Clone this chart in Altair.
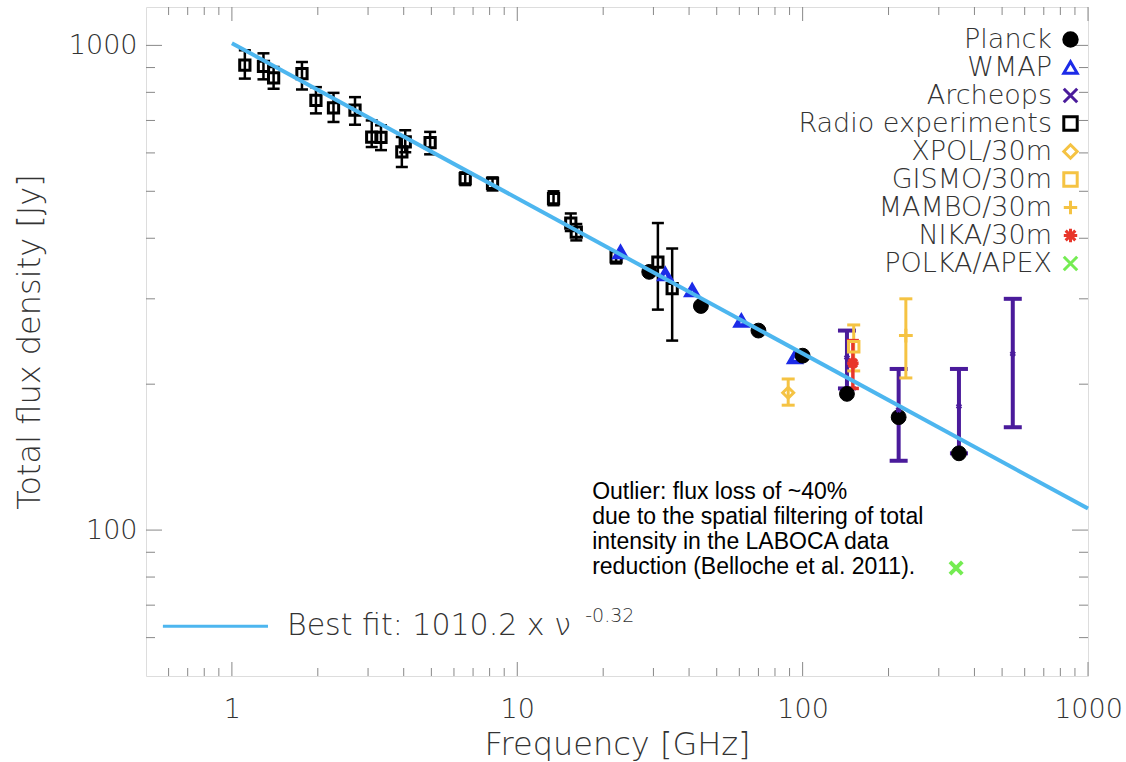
import altair as alt
import pandas as pd

FONT = "DejaVu Sans"
TXT = "#333333"
WT = 200

# ---------------- data ----------------
series = ["Planck", "WMAP", "Archeops", "Radio experiments", "XPOL/30m",
          "GISMO/30m", "MAMBO/30m", "NIKA/30m", "POLKA/APEX"]

planck_freq = [29, 44, 70, 100, 143, 217, 353]
planck_flux = [341, 290, 258, 229, 191, 171, 144]

wmap_freq = [23, 33, 41, 61, 94]
wmap_flux = [374, 337, 312, 270, 227]

archeops_freq = [143, 217, 353, 545]
archeops_flux = [227, 177, 180, 231]
archeops_lo = [196, 139, 144, 163]
archeops_hi = [258, 215, 215, 300]

radio_freq = [1.11, 1.29, 1.40, 1.76, 1.97, 2.27, 2.70, 3.09, 3.33, 3.94,
              4.05, 4.95, 6.57, 8.19, 13.4, 15.4, 16.1, 22.2, 31.1, 34.9]
radio_flux = [910, 905, 857, 874, 770, 743, 735, 647, 646, 603,
              632, 630, 531, 519, 483, 430, 412, 366, 357, 315]
radio_lo = [854, 851, 814, 811, 724, 695, 686, 617, 608, 561,
            602, 596, 515, 502, 468, 414, 396, 355, 285, 246]
radio_hi = [977, 963, 902, 924, 820, 798, 782, 700, 684, 647,
            668, 663, 547, 534, 500, 450, 428, 376, 430, 381]

xpol_freq, xpol_flux, xpol_lo, xpol_hi = [89], [192], [181], [205]
gismo_freq, gismo_flux, gismo_lo, gismo_hi = [151], [239], [213], [265]
mambo_freq, mambo_flux, mambo_lo, mambo_hi = [230], [252], [206], [300]
nika_freq, nika_flux, nika_lo, nika_hi = [150], [221], [196], [246]
polka_freq, polka_flux = [345], [83.5]

fit_amp = 1010.2
fit_index = -0.32
fit_nu = [1, 1000]

x_major = [1, 10, 100, 1000]
x_minor = [0.6, 0.7, 0.8, 0.9, 2, 3, 4, 5, 6, 7, 8, 9, 20, 30, 40, 50, 60, 70,
           80, 90, 200, 300, 400, 500, 600, 700, 800, 900]
y_major = [100, 1000]
y_minor = [60, 70, 80, 90, 200, 300, 400, 500, 600, 700, 800, 900]

note_text = ["Outlier: flux loss of ~40%",
             "due to the spatial filtering of total",
             "intensity in the LABOCA data",
             "reduction (Belloche et al. 2011)."]
note_pos = [18.3, 126.5]
fit_label = "Best fit: 1010.2 x \u03bd"
fit_exp = "-0.32"
fit_key_x = [0.573, 1.338]
fit_key_y = 63.3
fit_label_pos = [1.56, 63.4]
fit_exp_pos = [17.3, 66.5]

# ---------------- styles ----------------
W, H = 942, 669
X_SHAPE = "M-1,-1L1,1M-1,1L1,-1"
PLUS = "M-1,0L1,0M0,-1L0,1"
AST = "M-1,0L1,0M0,-1L0,1M-0.72,-0.72L0.72,0.72M-0.72,0.72L0.72,-0.72"
YEL = "#f5c343"
colors = ["#000000", "#1c2be8", "#4a1b9b", "#000000", YEL, YEL, YEL,
          "#e8362a", "#74ec52"]
fills = ["#000000"] + ["transparent"] * 8
shapes = ["circle", "triangle-up", X_SHAPE, "square", "diamond", "square",
          PLUS, AST, X_SHAPE]

xscale = alt.Scale(type="log", domain=[0.5, 1000], nice=False)
yscale = alt.Scale(type="log", domain=[50, 1200], nice=False)
xaxis = alt.Axis(values=x_major, format="d", ticks=False, tickSize=0,
                 domain=False, grid=False, labelFont=FONT, labelFontSize=27,
                 labelFontWeight=WT, labelFlush=False,
                 labelColor=TXT, labelPadding=20, titleFont=FONT,
                 titleFontSize=32, titleFontWeight=WT, titleColor=TXT,
                 titlePadding=7)
yaxis = alt.Axis(values=y_major, format="d", ticks=False, tickSize=0,
                 domain=False, grid=False, labelFont=FONT, labelFontSize=27,
                 labelFontWeight=WT,
                 labelColor=TXT, labelPadding=9, titleFont=FONT,
                 titleFontSize=32, titleFontWeight=WT, titleColor=TXT,
                 titlePadding=22)


def X(f):
    return alt.X(f"{f}:Q", scale=xscale, axis=xaxis, title="Frequency [GHz]")


def Y(f):
    return alt.Y(f"{f}:Q", scale=yscale, axis=yaxis,
                 title="Total flux density [Jy]")


# ---------------- frame ticks ----------------
TICK = "#888888"
layers = []
for vals, ln in [(x_major, 14), (x_minor, 8)]:
    d = pd.DataFrame({"v": vals})
    layers.append(alt.Chart(d).mark_rule(color=TICK, strokeWidth=1).encode(
        x=X("v"), y=alt.value(H), y2=alt.value(H - ln)))
    layers.append(alt.Chart(d).mark_rule(color=TICK, strokeWidth=1).encode(
        x=X("v"), y=alt.value(0), y2=alt.value(ln)))
for vals, ln in [(y_major, 16), (y_minor, 9)]:
    d = pd.DataFrame({"v": vals})
    layers.append(alt.Chart(d).mark_rule(color=TICK, strokeWidth=1).encode(
        y=Y("v"), x=alt.value(0), x2=alt.value(ln)))
    layers.append(alt.Chart(d).mark_rule(color=TICK, strokeWidth=1).encode(
        y=Y("v"), x=alt.value(W), x2=alt.value(W - ln)))

# ---------------- error bars ----------------
err_groups = [
    (radio_freq, radio_lo, radio_hi, "#000000", 2.5, 12),
    (archeops_freq, archeops_lo, archeops_hi, "#4a1b9b", 4, 18),
    (xpol_freq, xpol_lo, xpol_hi, YEL, 3, 13),
    (gismo_freq, gismo_lo, gismo_hi, YEL, 3, 13),
    (mambo_freq, mambo_lo, mambo_hi, YEL, 3, 13),
    (nika_freq, nika_lo, nika_hi, "#e8362a", 3.5, 12),
]
for fr, lo, hi, col, sw, cap in err_groups:
    d = pd.DataFrame({"freq": fr, "lo": lo, "hi": hi})
    layers.append(alt.Chart(d).mark_rule(color=col, strokeWidth=sw).encode(
        x=X("freq"), y=Y("lo"), y2="hi"))
    for end in ["lo", "hi"]:
        layers.append(alt.Chart(d).mark_tick(
            color=col, orient="horizontal", size=cap, thickness=sw,
            opacity=1).encode(x=X("freq"), y=Y(end)))

# ---------------- markers ----------------
rows = []
def add(name, fr, fl, sz, sw):
    for a, b in zip(fr, fl):
        rows.append({"series": name, "freq": a, "flux": b, "sz": sz, "sw": sw})

add("Radio experiments", radio_freq, radio_flux, 105, 3)
add("WMAP", wmap_freq, wmap_flux, 110, 4.5)
add("Planck", planck_freq, planck_flux, 220, 1)
add("Archeops", archeops_freq, archeops_flux, 18, 3)
add("XPOL/30m", xpol_freq, xpol_flux, 120, 3)
add("GISMO/30m", gismo_freq, gismo_flux, 110, 3)
add("MAMBO/30m", mambo_freq, mambo_flux, 190, 3)
add("NIKA/30m", nika_freq, nika_flux, 130, 3.5)
add("POLKA/APEX", polka_freq, polka_flux, 150, 4)
mk = pd.DataFrame(rows)

leg = alt.Legend(orient="none", legendX=911, legendY=19, direction="vertical",
                 labelAlign="right", labelOffset={"expr": "-32"},
                 labelFont=FONT, labelFontWeight=WT,
                 labelFontSize=27, labelColor=TXT, labelLimit=600,
                 symbolSize=180, symbolStrokeWidth=3, rowPadding=0,
                 padding=0)
markers = alt.Chart(mk).mark_point(opacity=1).encode(
    x=X("freq"), y=Y("flux"),
    stroke=alt.Stroke("series:N", title=None, legend=leg,
                      scale=alt.Scale(domain=series, range=colors)),
    fill=alt.Fill("series:N", title=None, legend=leg,
                  scale=alt.Scale(domain=series, range=fills)),
    shape=alt.Shape("series:N", title=None, legend=leg,
                    scale=alt.Scale(domain=series, range=shapes)),
    size=alt.Size("sz:Q", scale=None, legend=None),
    strokeWidth=alt.StrokeWidth("sw:Q", scale=None, legend=None),
)
layers.append(markers)

# ---------------- fit line ----------------
LINE = "#4db6ef"
fit = pd.DataFrame({"nu": fit_nu,
                    "flux": [fit_amp * n ** fit_index for n in fit_nu]})
layers.append(alt.Chart(fit).mark_line(color=LINE, strokeWidth=4).encode(
    x=X("nu"), y=Y("flux")))

key = pd.DataFrame({"x1": [fit_key_x[0]], "x2": [fit_key_x[1]],
                    "y": [fit_key_y]})
layers.append(alt.Chart(key).mark_rule(color=LINE, strokeWidth=3).encode(
    x=X("x1"), x2="x2", y=Y("y")))

lab = pd.DataFrame({"x": [fit_label_pos[0]], "y": [fit_label_pos[1]],
                    "t": [fit_label]})
layers.append(alt.Chart(lab).mark_text(
    align="left", baseline="middle", font=FONT, fontSize=30, fontWeight=WT,
    color=TXT).encode(x=X("x"), y=Y("y"), text="t:N"))
ex = pd.DataFrame({"x": [fit_exp_pos[0]], "y": [fit_exp_pos[1]],
                   "t": [fit_exp]})
layers.append(alt.Chart(ex).mark_text(
    align="left", baseline="middle", font=FONT, fontSize=19, fontWeight=WT,
    color=TXT).encode(x=X("x"), y=Y("y"), text="t:N"))

note = pd.DataFrame({"x": [note_pos[0]], "y": [note_pos[1]],
                     "t": ["\n".join(note_text)]})
layers.append(alt.Chart(note).mark_text(
    align="left", baseline="top", font="Liberation Sans", fontSize=23,
    lineBreak="\n", lineHeight=25, color="#000000").encode(
    x=X("x"), y=Y("y"), text="t:N"))

chart = alt.layer(*layers).properties(
    width=W, height=H,
    padding={"left": 146, "top": 7, "right": 38, "bottom": 86},
    autosize=alt.AutoSizeParams(type="none"),
).configure_view(stroke="#888888", strokeWidth=1.5).configure(
    background="white")

chart.save("out.html", embed_options={"renderer": "svg", "actions": False})
